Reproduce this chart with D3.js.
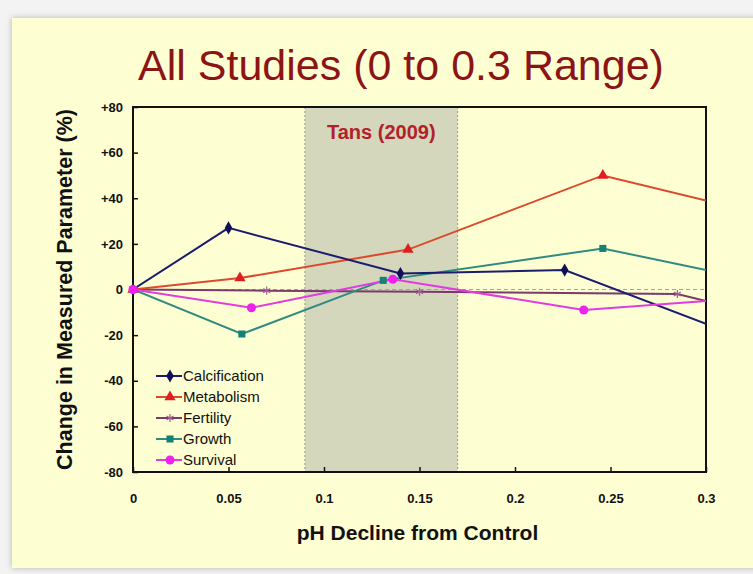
<!DOCTYPE html>
<html>
<head>
<meta charset="utf-8">
<script src="https://cdn.jsdelivr.net/npm/d3@7"></script>
<style>
  html, body { margin: 0; padding: 0; background: #f3f3f3; }
  #chart { width: 753px; height: 574px; }
  text { font-family: "Liberation Sans", Arial, sans-serif; }
</style>
</head>
<body>
<div id="chart"></div>
<script>
// values
const xTicks = [0, 0.05, 0.1, 0.15, 0.2, 0.25, 0.3];
const xTickLabels = ["0", "0.05", "0.1", "0.15", "0.2", "0.25", "0.3"];
const yTicks = [-80, -60, -40, -20, 0, 20, 40, 60, 80];
const yTickLabels = ["-80", "-60", "-40", "-20", "0", "+20", "+40", "+60", "+80"];
const shadedRange = [0.09, 0.17];
const shadedLabel = "Tans (2009)";

const seriesNames = ["Calcification", "Metabolism", "Fertility", "Growth", "Survival"];
const calcification = [[0, 0], [0.05, 27], [0.14, 7], [0.226, 8.5], [0.3, -15]];
const metabolism = [[0, 0], [0.056, 5], [0.144, 17.5], [0.246, 50], [0.3, 39]];
const fertility = [[0, 0], [0.07, -0.5], [0.15, -1], [0.285, -2], [0.3, -5]];
const growth = [[0, 0], [0.057, -19.5], [0.131, 4], [0.246, 18], [0.3, 8.5]];
const survival = [[0, 0], [0.062, -8], [0.136, 4.5], [0.236, -9], [0.3, -5]];

const seriesValues = [calcification, metabolism, fertility, growth, survival];
const lineColors = ["#1c1c6e", "#dc4a2c", "#7a3a6c", "#2f8a80", "#e03ce0"];
const markColors = ["#10105a", "#e02020", "#a06090", "#168076", "#ee22ee"];
const markShapes = [d3.symbolDiamond, d3.symbolTriangle, d3.symbolAsterisk, d3.symbolSquare, d3.symbolCircle];
const markSizes = [50, 55, 45, 50, 65];

const W = 753, H = 574;
const margin = { top: 107, right: 47, bottom: 102, left: 133 };
const width = W - margin.left - margin.right;
const height = H - margin.top - margin.bottom;

const root = d3.select("#chart").append("svg")
  .attr("width", W)
  .attr("height", H);

const defs = root.append("defs");
const shadow = defs.append("filter").attr("id", "shadow")
  .attr("x", "-5%").attr("y", "-5%").attr("width", "110%").attr("height", "110%");
shadow.append("feDropShadow")
  .attr("dx", 0).attr("dy", 0).attr("stdDeviation", 3)
  .attr("flood-color", "#999").attr("flood-opacity", 0.7);

// slide card
root.append("rect")
  .attr("x", 12).attr("y", 18)
  .attr("width", W + 20).attr("height", 550)
  .attr("fill", "#fefed3")
  .attr("filter", "url(#shadow)");

root.append("text")
  .attr("x", 401).attr("y", 80)
  .attr("text-anchor", "middle")
  .attr("font-size", 43)
  .attr("fill", "#8c1414")
  .text("All Studies (0 to 0.3 Range)");

const svg = root.append("g")
  .attr("transform", `translate(${margin.left},${margin.top})`);

const x = d3.scaleLinear().domain([0, 0.3]).range([0, width]);
const y = d3.scaleLinear().domain([-80, 80]).range([height, 0]);

defs.append("clipPath").attr("id", "plot-clip")
  .append("rect").attr("width", width).attr("height", height);

// shaded study range
svg.append("rect")
  .attr("x", x(shadedRange[0]))
  .attr("width", x(shadedRange[1]) - x(shadedRange[0]))
  .attr("y", 0).attr("height", height)
  .attr("fill", "#d5d7bd");

shadedRange.forEach(v => {
  svg.append("line")
    .attr("x1", x(v)).attr("x2", x(v))
    .attr("y1", 0).attr("y2", height)
    .attr("stroke", "#9a9a8a")
    .attr("stroke-width", 1)
    .attr("stroke-dasharray", "2,2");
});

svg.append("text")
  .attr("x", x((shadedRange[0] + shadedRange[1]) / 2))
  .attr("y", 32)
  .attr("text-anchor", "middle")
  .attr("font-size", 20)
  .attr("font-weight", "bold")
  .attr("fill", "#b3202a")
  .text(shadedLabel);

// zero reference
svg.append("line")
  .attr("x1", 0).attr("x2", width)
  .attr("y1", y(0)).attr("y2", y(0))
  .attr("stroke", "#c9a24a")
  .attr("stroke-width", 1)
  .attr("stroke-dasharray", "4,3");

// axes
const xAxis = d3.axisBottom(x).tickValues(xTicks).tickSize(-5).tickFormat((d, i) => xTickLabels[i]).tickPadding(22);
const yAxis = d3.axisLeft(y).tickValues(yTicks).tickSize(-5).tickFormat((d, i) => yTickLabels[i]).tickPadding(10);

const gx = svg.append("g")
  .attr("transform", `translate(0,${height})`)
  .call(xAxis);
const gy = svg.append("g").call(yAxis);

[gx, gy].forEach(g => {
  g.select(".domain").remove();
  g.selectAll(".tick line").attr("stroke", "#111").attr("stroke-width", 1.5);
  g.selectAll(".tick text")
    .attr("font-family", "'Liberation Sans', Arial, sans-serif")
    .attr("font-size", 13)
    .attr("font-weight", "bold")
    .attr("fill", "#111");
});

svg.append("rect")
  .attr("width", width).attr("height", height)
  .attr("fill", "none")
  .attr("stroke", "#111")
  .attr("stroke-width", 2);

// series
const line = d3.line().x(d => x(d[0])).y(d => y(d[1]));
const plot = svg.append("g").attr("clip-path", "url(#plot-clip)");

const order = [2, 3, 1, 0, 4];
order.forEach(i => {
  plot.append("path")
    .datum(seriesValues[i])
    .attr("d", line)
    .attr("fill", "none")
    .attr("stroke", lineColors[i])
    .attr("stroke-width", 2);
});

order.forEach(i => {
  svg.selectAll(null)
    .data(seriesValues[i].filter(d => d[0] < 0.3))
    .enter()
    .append("path")
    .attr("transform", d => `translate(${x(d[0])},${y(d[1])})`)
    .attr("d", d3.symbol().type(markShapes[i]).size(markSizes[i]))
    .attr("fill", markShapes[i] === d3.symbolAsterisk ? "none" : markColors[i])
    .attr("stroke", markShapes[i] === d3.symbolAsterisk ? markColors[i] : "none")
    .attr("stroke-width", 1.2);
});

// legend
const legend = svg.append("g")
  .attr("transform", `translate(${156 - margin.left},${376 - margin.top})`);

seriesNames.forEach((name, i) => {
  const row = legend.append("g").attr("transform", `translate(0,${i * 21})`);
  row.append("line")
    .attr("x1", 0).attr("x2", 26)
    .attr("stroke", lineColors[i])
    .attr("stroke-width", 2);
  row.append("path")
    .attr("transform", "translate(14,0)")
    .attr("d", d3.symbol().type(markShapes[i]).size(markSizes[i]))
    .attr("fill", markShapes[i] === d3.symbolAsterisk ? "none" : markColors[i])
    .attr("stroke", markShapes[i] === d3.symbolAsterisk ? markColors[i] : "none")
    .attr("stroke-width", 1.2);
  row.append("text")
    .attr("x", 27).attr("y", 5)
    .attr("font-size", 15)
    .attr("fill", "#111")
    .text(name);
});

// axis titles
svg.append("text")
  .attr("x", width / 2 - 2)
  .attr("y", height + 68)
  .attr("text-anchor", "middle")
  .attr("font-size", 21)
  .attr("font-weight", "bold")
  .attr("fill", "#111")
  .text("pH Decline from Control");

svg.append("text")
  .attr("transform", "rotate(-90)")
  .attr("x", -height / 2)
  .attr("y", -61)
  .attr("text-anchor", "middle")
  .attr("font-size", 21.5)
  .attr("font-weight", "bold")
  .attr("fill", "#111")
  .text("Change in Measured Parameter (%)");
</script>
</body>
</html>
